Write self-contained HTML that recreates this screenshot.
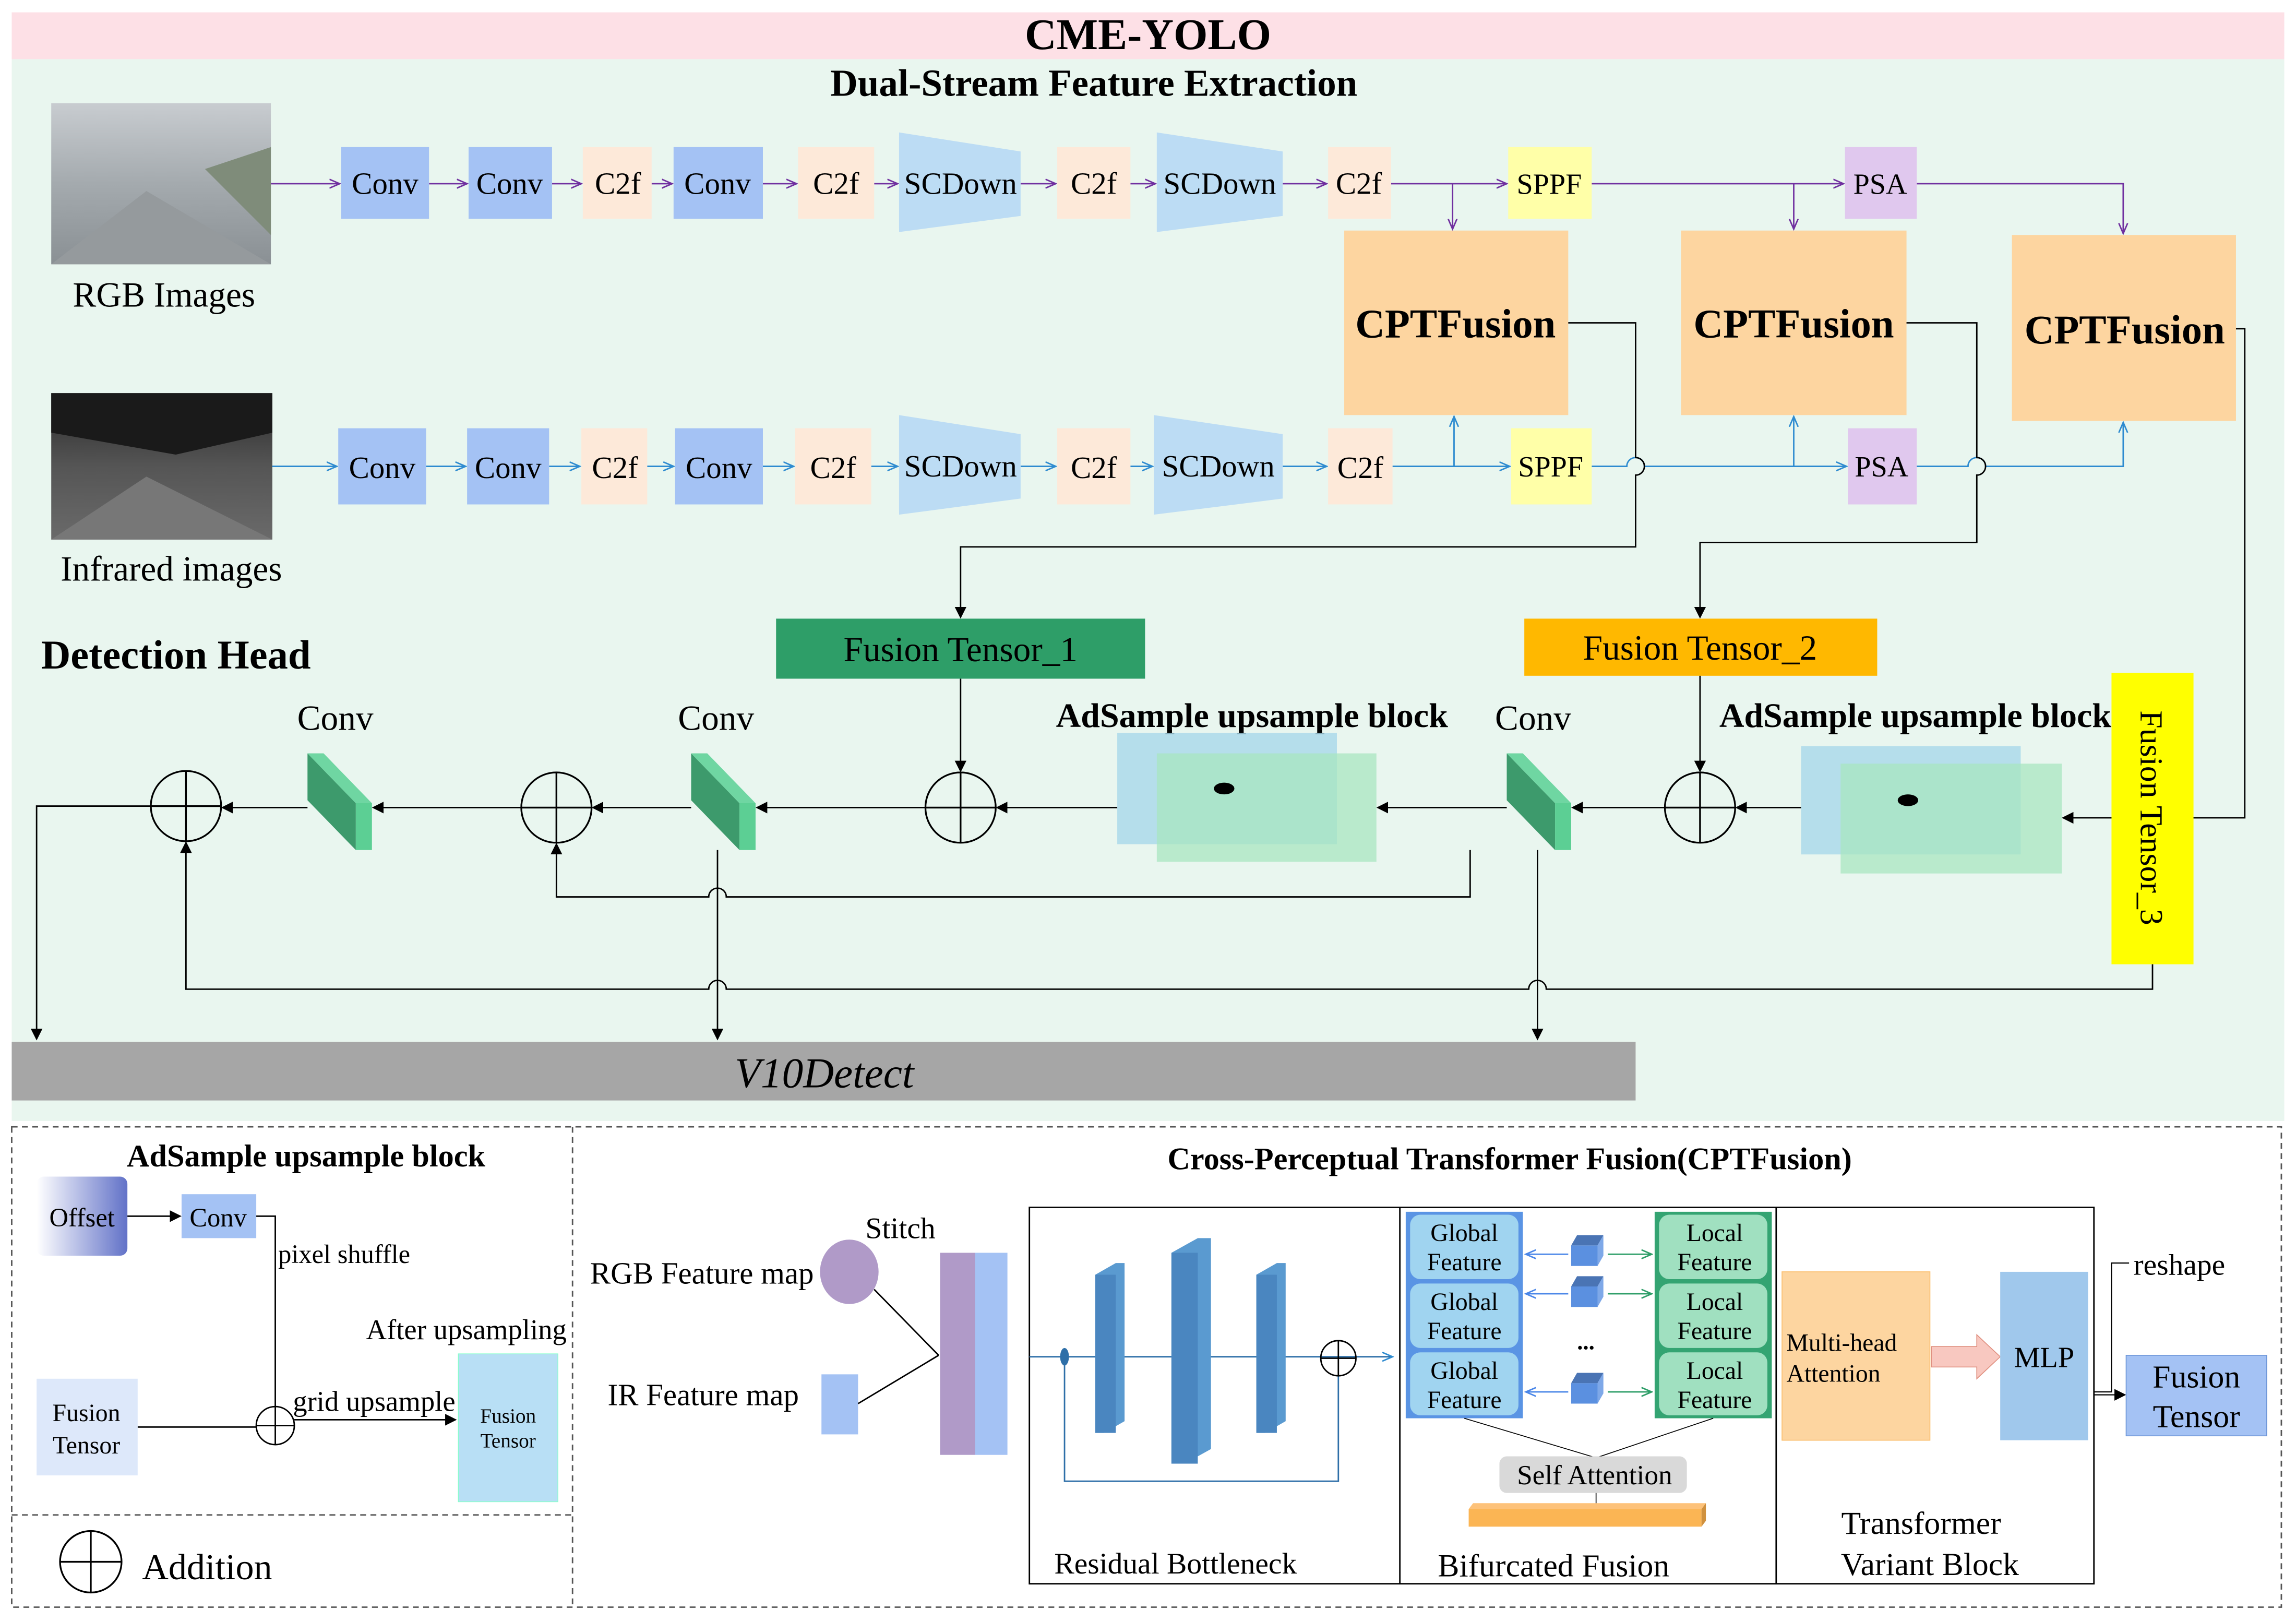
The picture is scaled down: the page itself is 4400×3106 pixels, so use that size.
<!DOCTYPE html>
<html><head><meta charset="utf-8"><style>
html,body{margin:0;padding:0;background:#fff}
svg{display:block}
text{font-family:"Liberation Serif",serif;fill:#000}
</style></head><body>
<svg width="4400" height="3106" viewBox="0 0 1568 1106" xmlns="http://www.w3.org/2000/svg">
<defs>
<marker id="ap" markerWidth="8" markerHeight="8" refX="7" refY="4" orient="auto" markerUnits="userSpaceOnUse"><path d="M0,1 L7,4 L0,7" fill="none" stroke="#7030a0" stroke-width="1"/></marker>
<marker id="ab" markerWidth="8" markerHeight="8" refX="7" refY="4" orient="auto" markerUnits="userSpaceOnUse"><path d="M0,1 L7,4 L0,7" fill="none" stroke="#2e8bd0" stroke-width="1"/></marker>
<marker id="ak" markerWidth="8" markerHeight="8" refX="7" refY="4" orient="auto" markerUnits="userSpaceOnUse"><path d="M0,0 L8,4 L0,8 z" fill="#000"/></marker>
<marker id="ag" markerWidth="8" markerHeight="8" refX="7" refY="4" orient="auto" markerUnits="userSpaceOnUse"><path d="M0,1 L7,4 L0,7" fill="none" stroke="#2e9e68" stroke-width="1"/></marker>
<marker id="al" markerWidth="8" markerHeight="8" refX="7" refY="4" orient="auto" markerUnits="userSpaceOnUse"><path d="M0,1 L7,4 L0,7" fill="none" stroke="#4a86e8" stroke-width="1"/></marker>
<linearGradient id="off" x1="0" x2="1"><stop offset="0" stop-color="#fff"/><stop offset="1" stop-color="#6272c8"/></linearGradient>
<linearGradient id="rgbimg" x1="0" y1="0" x2="0" y2="1"><stop offset="0" stop-color="#c8ccd0"/><stop offset="0.5" stop-color="#a4aaae"/><stop offset="1" stop-color="#8a9094"/></linearGradient>
<linearGradient id="irimg" x1="0" y1="0" x2="0" y2="1"><stop offset="0" stop-color="#2a2a2a"/><stop offset="0.5" stop-color="#555"/><stop offset="1" stop-color="#6a6a6a"/></linearGradient>
</defs>

<rect x="8" y="8" width="1552" height="32" fill="#fde0e6"/>
<text x="784" y="33" font-size="30" font-weight="bold" text-anchor="middle">CME-YOLO</text>
<rect x="8" y="40" width="1552" height="725" fill="#e9f6ef"/>
<text x="747" y="65" font-size="26" font-weight="bold" text-anchor="middle">Dual-Stream Feature Extraction</text>

<rect x="35" y="70" width="150" height="110" fill="url(#rgbimg)"/>
<path d="M35,180 L100,130 L185,180z" fill="#959a9d"/>
<path d="M140,115 L185,100 L185,160z" fill="#7f8c7a"/>
<text x="112" y="209" font-size="24" text-anchor="middle">RGB Images</text>
<rect x="35" y="268" width="151" height="100" fill="url(#irimg)"/>
<path d="M35,368 L100,325 L186,368z" fill="#777"/>
<path d="M35,268 L186,268 L186,295 L120,310 L35,295z" fill="#1a1a1a"/>
<text x="117" y="396" font-size="24" text-anchor="middle">Infrared images</text>

<g stroke="#7030a0" stroke-width="1" fill="none">
<line x1="185" y1="125" x2="232" y2="125" marker-end="url(#ap)"/>
<line x1="293" y1="125" x2="319" y2="125" marker-end="url(#ap)"/>
<line x1="377" y1="125" x2="397" y2="125" marker-end="url(#ap)"/>
<line x1="445" y1="125" x2="459" y2="125" marker-end="url(#ap)"/>
<line x1="521" y1="125" x2="544" y2="125" marker-end="url(#ap)"/>
<line x1="597" y1="125" x2="613" y2="125" marker-end="url(#ap)"/>
<line x1="697" y1="125" x2="721" y2="125" marker-end="url(#ap)"/>
<line x1="772" y1="125" x2="789" y2="125" marker-end="url(#ap)"/>
<line x1="876" y1="125" x2="906" y2="125" marker-end="url(#ap)"/>
<line x1="950" y1="125" x2="1029" y2="125" marker-end="url(#ap)"/>
<line x1="1087" y1="125" x2="1259" y2="125" marker-end="url(#ap)"/>
<polyline points="1309,125 1450,125 1450,159" marker-end="url(#ap)"/>
<line x1="992" y1="125" x2="992" y2="156" marker-end="url(#ap)"/>
<line x1="1225" y1="125" x2="1225" y2="156" marker-end="url(#ap)"/>
</g>
<g stroke="#2e8bd0" stroke-width="1" fill="none">
<line x1="186" y1="318" x2="230" y2="318" marker-end="url(#ab)"/>
<line x1="291" y1="318" x2="318" y2="318" marker-end="url(#ab)"/>
<line x1="375" y1="318" x2="396" y2="318" marker-end="url(#ab)"/>
<line x1="442" y1="318" x2="460" y2="318" marker-end="url(#ab)"/>
<line x1="521" y1="318" x2="542" y2="318" marker-end="url(#ab)"/>
<line x1="595" y1="318" x2="613" y2="318" marker-end="url(#ab)"/>
<line x1="697" y1="318" x2="721" y2="318" marker-end="url(#ab)"/>
<line x1="772" y1="318" x2="787" y2="318" marker-end="url(#ab)"/>
<line x1="876" y1="318" x2="906" y2="318" marker-end="url(#ab)"/>
<line x1="951" y1="318" x2="1031" y2="318" marker-end="url(#ab)"/>
<path d="M1087,318 L1111,318 A6,6 0 0 1 1123,318 L1261,318" marker-end="url(#ab)"/>
<path d="M1309,318 L1344,318 A6,6 0 0 1 1356,318 L1450,318 L1450,288" marker-end="url(#ab)"/>
<line x1="993" y1="318" x2="993" y2="284" marker-end="url(#ab)"/>
<line x1="1225" y1="318" x2="1225" y2="284" marker-end="url(#ab)"/>
</g>

<g font-size="21" text-anchor="middle">
<rect x="233" y="100" width="60" height="49" fill="#a4c2f4"/><text x="263" y="132">Conv</text>
<rect x="320" y="100" width="57" height="49" fill="#a4c2f4"/><text x="348" y="132">Conv</text>
<rect x="398" y="100" width="47" height="49" fill="#fde9d9"/><text x="422" y="132">C2f</text>
<rect x="460" y="100" width="61" height="49" fill="#a4c2f4"/><text x="490" y="132">Conv</text>
<rect x="545" y="100" width="52" height="49" fill="#fde9d9"/><text x="571" y="132">C2f</text>
<path d="M614,90 L697,103 L697,147 L614,158z" fill="#bcdcf4"/><text x="656" y="132">SCDown</text>
<rect x="722" y="100" width="50" height="49" fill="#fde9d9"/><text x="747" y="132">C2f</text>
<path d="M790,90 L876,103 L876,147 L790,158z" fill="#bcdcf4"/><text x="833" y="132">SCDown</text>
<rect x="907" y="100" width="43" height="49" fill="#fde9d9"/><text x="928" y="132">C2f</text>
<rect x="1030" y="100" width="57" height="49" fill="#ffffa8"/><text x="1058" y="132" font-size="20">SPPF</text>
<rect x="1260" y="100" width="49" height="49" fill="#e0c8ee"/><text x="1284" y="132" font-size="20">PSA</text>

<rect x="231" y="292" width="60" height="52" fill="#a4c2f4"/><text x="261" y="326">Conv</text>
<rect x="319" y="292" width="56" height="52" fill="#a4c2f4"/><text x="347" y="326">Conv</text>
<rect x="397" y="292" width="45" height="52" fill="#fde9d9"/><text x="420" y="326">C2f</text>
<rect x="461" y="292" width="60" height="52" fill="#a4c2f4"/><text x="491" y="326">Conv</text>
<rect x="543" y="292" width="52" height="52" fill="#fde9d9"/><text x="569" y="326">C2f</text>
<path d="M614,283 L697,296 L697,340 L614,351z" fill="#bcdcf4"/><text x="656" y="325">SCDown</text>
<rect x="722" y="292" width="50" height="52" fill="#fde9d9"/><text x="747" y="326">C2f</text>
<path d="M788,283 L876,296 L876,340 L788,351z" fill="#bcdcf4"/><text x="832" y="325">SCDown</text>
<rect x="907" y="292" width="44" height="52" fill="#fde9d9"/><text x="929" y="326">C2f</text>
<rect x="1032" y="292" width="55" height="52" fill="#ffffa8"/><text x="1059" y="325" font-size="20">SPPF</text>
<rect x="1262" y="292" width="47" height="52" fill="#e0c8ee"/><text x="1285" y="325" font-size="20">PSA</text>
</g>

<g font-size="28" font-weight="bold" text-anchor="middle">
<rect x="918" y="157" width="153" height="126" fill="#fdd5a0"/><text x="994" y="230">CPTFusion</text>
<rect x="1148" y="157" width="154" height="126" fill="#fdd5a0"/><text x="1225" y="230">CPTFusion</text>
<rect x="1374" y="160" width="153" height="127" fill="#fdd5a0"/><text x="1451" y="234">CPTFusion</text>
</g>

<g stroke="#000" stroke-width="1" fill="none">
<path d="M1071,220 L1117,220 L1117,312 A6,6 0 0 1 1117,324 L1117,373 L656,373 L656,421" marker-end="url(#ak)"/>
<path d="M1302,220 L1350,220 L1350,312 A6,6 0 0 1 1350,324 L1350,370 L1161,370 L1161,421" marker-end="url(#ak)"/>
<path d="M1527,224 L1533,224 L1533,558 L1409,558" marker-end="url(#ak)"/>
</g>

<rect x="530" y="422" width="252" height="41" fill="#2e9e68"/>
<text x="656" y="451" font-size="24" text-anchor="middle">Fusion Tensor_1</text>
<rect x="1041" y="422" width="241" height="39" fill="#ffb800"/>
<text x="1161" y="450" font-size="24" text-anchor="middle">Fusion Tensor_2</text>
<rect x="1442" y="459" width="56" height="199" fill="#ffff00"/>
<text x="1462" y="558" font-size="22" text-anchor="middle" transform="rotate(90 1462 558)">Fusion Tensor_3</text>

<text x="28" y="456" font-size="28" font-weight="bold">Detection Head</text>
<g font-size="24" text-anchor="middle">
<text x="229" y="498">Conv</text><text x="489" y="498">Conv</text><text x="1047" y="498">Conv</text>
</g>
<text x="855" y="496" font-size="23.5" font-weight="bold" text-anchor="middle">AdSample upsample block</text>
<text x="1308" y="496" font-size="23.5" font-weight="bold" text-anchor="middle">AdSample upsample block</text>

<rect x="763" y="500" width="150" height="76" fill="#a8d8ea" opacity="0.8"/>
<rect x="790" y="514" width="150" height="74" fill="#a8e6c0" opacity="0.75"/>
<ellipse cx="836" cy="538" rx="7" ry="4" fill="#000"/>
<rect x="1230" y="509" width="150" height="74" fill="#a8d8ea" opacity="0.8"/>
<rect x="1257" y="521" width="151" height="75" fill="#a8e6c0" opacity="0.75"/>
<ellipse cx="1303" cy="546" rx="7" ry="4" fill="#000"/>

<g>
<path d="M210,514 L243,548 L243,580 L210,546z" fill="#3d9a6c"/><path d="M243,548 L254,548 L254,580 L243,580z" fill="#5ccf94"/><path d="M210,514 L221,514 L254,548 L243,548z" fill="#6fd6a2"/>
<path d="M472,514 L505,548 L505,580 L472,546z" fill="#3d9a6c"/><path d="M505,548 L516,548 L516,580 L505,580z" fill="#5ccf94"/><path d="M472,514 L483,514 L516,548 L505,548z" fill="#6fd6a2"/>
<path d="M1029,514 L1062,548 L1062,580 L1029,546z" fill="#3d9a6c"/><path d="M1062,548 L1073,548 L1073,580 L1062,580z" fill="#5ccf94"/><path d="M1029,514 L1040,514 L1073,548 L1062,548z" fill="#6fd6a2"/>
</g>

<g stroke="#000" stroke-width="1.2" fill="none">
<circle cx="127" cy="550" r="24"/><line x1="103" y1="550" x2="151" y2="550"/><line x1="127" y1="526" x2="127" y2="574"/>
<circle cx="380" cy="551" r="24"/><line x1="356" y1="551" x2="404" y2="551"/><line x1="380" y1="527" x2="380" y2="575"/>
<circle cx="656" cy="551" r="24"/><line x1="632" y1="551" x2="680" y2="551"/><line x1="656" y1="527" x2="656" y2="575"/>
<circle cx="1161" cy="551" r="24"/><line x1="1137" y1="551" x2="1185" y2="551"/><line x1="1161" y1="527" x2="1161" y2="575"/>
</g>
<g stroke="#000" stroke-width="1" fill="none">
<line x1="1230" y1="551" x2="1186" y2="551" marker-end="url(#ak)"/>
<line x1="1161" y1="461" x2="1161" y2="526" marker-end="url(#ak)"/>
<line x1="1137" y1="551" x2="1074" y2="551" marker-end="url(#ak)"/>
<line x1="1029" y1="551" x2="941" y2="551" marker-end="url(#ak)"/>
<line x1="763" y1="551" x2="681" y2="551" marker-end="url(#ak)"/>
<line x1="656" y1="463" x2="656" y2="526" marker-end="url(#ak)"/>
<line x1="632" y1="551" x2="517" y2="551" marker-end="url(#ak)"/>
<line x1="472" y1="551" x2="405" y2="551" marker-end="url(#ak)"/>
<line x1="356" y1="551" x2="255" y2="551" marker-end="url(#ak)"/>
<line x1="210" y1="551" x2="152" y2="551" marker-end="url(#ak)"/>
<polyline points="103,550 25,550 25,709" marker-end="url(#ak)"/>
<path d="M1004,580 L1004,612 L496,612 A6,6 0 0 0 484,612 L380,612 L380,576" marker-end="url(#ak)"/>
<path d="M1470,658 L1470,675 L1056,675 A6,6 0 0 0 1044,675 L496,675 A6,6 0 0 0 484,675 L127,675 L127,575" marker-end="url(#ak)"/>
<line x1="490" y1="580" x2="490" y2="709" marker-end="url(#ak)"/>
<line x1="1050" y1="580" x2="1050" y2="709" marker-end="url(#ak)"/>
</g>

<rect x="8" y="711" width="1109" height="40" fill="#a6a6a6"/>
<text x="563" y="742" font-size="29" font-style="italic" text-anchor="middle">V10Detect</text>

<rect x="8" y="769" width="1550" height="328" fill="none" stroke="#555" stroke-width="1" stroke-dasharray="4,3"/>
<line x1="391" y1="769" x2="391" y2="1097" stroke="#555" stroke-dasharray="4,3"/>
<line x1="8" y1="1034" x2="391" y2="1034" stroke="#555" stroke-dasharray="4,3"/>
<text x="209" y="796" font-size="21.5" font-weight="bold" text-anchor="middle">AdSample upsample block</text>
<rect x="25" y="803" width="62" height="54" rx="5" fill="url(#off)"/>
<text x="56" y="837" font-size="18" text-anchor="middle">Offset</text>
<rect x="124" y="815" width="51" height="30" fill="#a4c2f4"/>
<text x="149" y="837" font-size="18" text-anchor="middle">Conv</text>
<g stroke="#000" stroke-width="1" fill="none">
<line x1="87" y1="830" x2="123" y2="830" marker-end="url(#ak)"/>
<polyline points="175,830 188,830 188,960"/>
<line x1="94" y1="974" x2="175" y2="974"/>
<circle cx="188" cy="973" r="13"/><line x1="175" y1="973" x2="201" y2="973"/><line x1="188" y1="960" x2="188" y2="986"/>
<line x1="201" y1="969" x2="311" y2="969" marker-end="url(#ak)"/>
</g>
<text x="190" y="862" font-size="18">pixel shuffle</text>
<text x="250" y="914" font-size="19.5">After upsampling</text>
<text x="200" y="963" font-size="19.5">grid upsample</text>
<rect x="25" y="941" width="69" height="66" fill="#dde8fa"/>
<text x="59" y="970" font-size="17" text-anchor="middle">Fusion</text>
<text x="59" y="992" font-size="17" text-anchor="middle">Tensor</text>
<rect x="313" y="924" width="68" height="101" fill="#b8dff5" stroke="#8fc" stroke-width="0.5"/>
<text x="347" y="971" font-size="14" text-anchor="middle">Fusion</text>
<text x="347" y="988" font-size="14" text-anchor="middle">Tensor</text>
<g stroke="#000" stroke-width="1.2" fill="none">
<circle cx="62" cy="1066" r="21"/><line x1="41" y1="1066" x2="83" y2="1066"/><line x1="62" y1="1045" x2="62" y2="1087"/>
</g>
<text x="97" y="1078" font-size="25">Addition</text>

<text x="1031" y="798" font-size="21.5" font-weight="bold" text-anchor="middle">Cross-Perceptual Transformer Fusion(CPTFusion)</text>
<text x="403" y="876" font-size="21">RGB Feature map</text>
<ellipse cx="580" cy="868" rx="20" ry="22" fill="#b09ac8"/>
<text x="591" y="845" font-size="20.5">Stitch</text>
<text x="415" y="959" font-size="21">IR Feature map</text>
<rect x="561" y="938" width="25" height="41" fill="#a4c2f4"/>
<g stroke="#000" stroke-width="1"><line x1="597" y1="880" x2="641" y2="925"/><line x1="586" y1="958" x2="641" y2="925"/></g>
<rect x="642" y="855" width="24" height="138" fill="#b09ac8"/>
<rect x="666" y="855" width="22" height="138" fill="#a4c2f4"/>

<rect x="703" y="824" width="727" height="257" fill="#fff" stroke="#000" stroke-width="1"/>
<line x1="956" y1="824" x2="956" y2="1081" stroke="#000"/>
<line x1="1213" y1="824" x2="1213" y2="1081" stroke="#000"/>
<g stroke="#2e6fa8" stroke-width="1" fill="none">
<line x1="703" y1="926" x2="951" y2="926" marker-end="url(#ab)"/>
<polyline points="727,926 727,1011 914,1011 914,939"/>
</g>
<path d="M748,870 L762,862 L768,862 L768,970 L754,978 L748,978z" fill="#5a9ad0"/><rect x="748" y="870" width="14" height="108" fill="#4a86c0"/>
<path d="M800,855 L818,845 L827,845 L827,989 L809,999 L800,999z" fill="#5a9ad0"/><rect x="800" y="855" width="18" height="144" fill="#4a86c0"/>
<path d="M858,870 L872,862 L878,862 L878,970 L864,978 L858,978z" fill="#5a9ad0"/><rect x="858" y="870" width="14" height="108" fill="#4a86c0"/>
<ellipse cx="727" cy="926" rx="3" ry="6" fill="#2e6fa8"/>
<g stroke="#000" stroke-width="1" fill="none"><circle cx="914" cy="927" r="12"/><line x1="902" y1="927" x2="926" y2="927"/><line x1="914" y1="915" x2="914" y2="939"/></g>
<text x="720" y="1074" font-size="20.5">Residual Bottleneck</text>
<rect x="960" y="827" width="80" height="141" fill="#5a94e4"/>
<rect x="1130" y="827" width="80" height="141" fill="#34a472"/>
<g font-size="17" text-anchor="middle">
<rect x="963" y="829" width="74" height="44" rx="7" fill="#a0d4f0"/><text x="1000" y="847">Global</text><text x="1000" y="867">Feature</text>
<rect x="963" y="876" width="74" height="44" rx="7" fill="#a0d4f0"/><text x="1000" y="894">Global</text><text x="1000" y="914">Feature</text>
<rect x="963" y="923" width="74" height="43" rx="7" fill="#a0d4f0"/><text x="1000" y="941">Global</text><text x="1000" y="961">Feature</text>
<rect x="1133" y="829" width="74" height="44" rx="7" fill="#a0e0c0"/><text x="1171" y="847">Local</text><text x="1171" y="867">Feature</text>
<rect x="1133" y="876" width="74" height="44" rx="7" fill="#a0e0c0"/><text x="1171" y="894">Local</text><text x="1171" y="914">Feature</text>
<rect x="1133" y="923" width="74" height="43" rx="7" fill="#a0e0c0"/><text x="1171" y="941">Local</text><text x="1171" y="961">Feature</text>
</g>
<g>
<rect x="1073" y="850" width="18" height="14" fill="#5b90e0"/><path d="M1073,850 L1077,843 L1095,843 L1091,850z" fill="#4a74b4"/><path d="M1091,850 L1095,843 L1095,857 L1091,864z" fill="#7ea8e8"/>
<rect x="1073" y="878" width="18" height="14" fill="#5b90e0"/><path d="M1073,878 L1077,871 L1095,871 L1091,878z" fill="#4a74b4"/><path d="M1091,878 L1095,871 L1095,885 L1091,892z" fill="#7ea8e8"/>
<rect x="1073" y="944" width="18" height="14" fill="#5b90e0"/><path d="M1073,944 L1077,937 L1095,937 L1091,944z" fill="#4a74b4"/><path d="M1091,944 L1095,937 L1095,951 L1091,958z" fill="#7ea8e8"/>
</g>
<text x="1083" y="921" font-size="16" font-weight="bold" text-anchor="middle">...</text>
<g stroke-width="1" fill="none">
<line x1="1071" y1="856" x2="1042" y2="856" stroke="#4a86e8" marker-end="url(#al)"/>
<line x1="1071" y1="883" x2="1042" y2="883" stroke="#4a86e8" marker-end="url(#al)"/>
<line x1="1071" y1="950" x2="1042" y2="950" stroke="#4a86e8" marker-end="url(#al)"/>
<line x1="1098" y1="856" x2="1128" y2="856" stroke="#2e9e68" marker-end="url(#ag)"/>
<line x1="1098" y1="883" x2="1128" y2="883" stroke="#2e9e68" marker-end="url(#ag)"/>
<line x1="1098" y1="950" x2="1128" y2="950" stroke="#2e9e68" marker-end="url(#ag)"/>
<polyline points="1000,968 1090,995 1170,968" stroke="#000" stroke-width="0.6"/>
<line x1="1090" y1="1019" x2="1090" y2="1028" stroke="#000" stroke-width="0.6"/>
</g>
<rect x="1024" y="994" width="128" height="25" rx="5" fill="#d9d9d9"/>
<text x="1089" y="1013" font-size="19" text-anchor="middle">Self Attention</text>
<rect x="1003" y="1030" width="159" height="12" fill="#fbb554"/>
<path d="M1003,1030 L1006,1026 L1165,1026 L1162,1030z" fill="#fdc27a"/><path d="M1162,1030 L1165,1026 L1165,1038 L1162,1042z" fill="#d0913e"/>
<text x="1061" y="1076" font-size="22" text-anchor="middle">Bifurcated Fusion</text>
<rect x="1217" y="868" width="101" height="115" fill="#fdd5a0" stroke="#fbc070" stroke-width="0.6"/>
<text x="1220" y="922" font-size="17">Multi-head</text>
<text x="1220" y="943" font-size="17">Attention</text>
<path d="M1319,919 L1350,919 L1350,911 L1366,926 L1350,941 L1350,933 L1319,933z" fill="#f8c8c0" stroke="#e09080" stroke-width="0.6"/>
<rect x="1366" y="868" width="60" height="115" fill="#a0c8ec"/>
<text x="1396" y="933" font-size="20" text-anchor="middle">MLP</text>
<text x="1312" y="1047" font-size="22" text-anchor="middle">Transformer</text>
<text x="1318" y="1075" font-size="22" text-anchor="middle">Variant Block</text>
<g stroke="#000" stroke-width="0.8" fill="none">
<polyline points="1430,950 1442,950 1442,862 1454,862"/>
<line x1="1430" y1="952" x2="1451" y2="952" marker-end="url(#ak)"/>
</g>
<text x="1457" y="870" font-size="20.5">reshape</text>
<rect x="1452" y="925" width="96" height="55" fill="#a4c2f4" stroke="#6d96d8" stroke-width="0.6"/>
<text x="1500" y="947" font-size="22" text-anchor="middle">Fusion</text>
<text x="1500" y="974" font-size="22" text-anchor="middle">Tensor</text>
</svg>
</body></html>
